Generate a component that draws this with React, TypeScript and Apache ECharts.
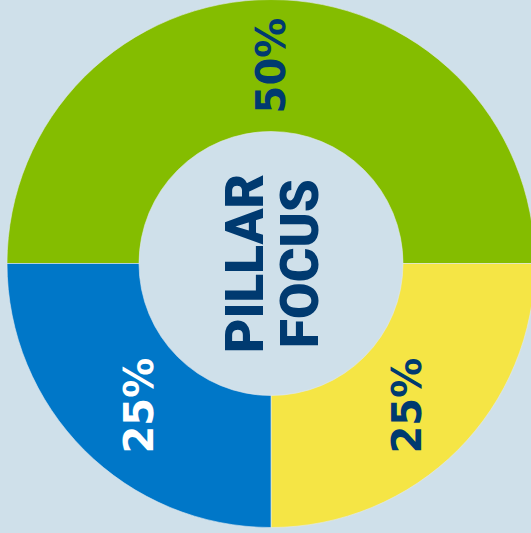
import React, { useEffect, useRef } from "react";
import * as echarts from "echarts";

const categories = ["Green pillar", "Yellow pillar", "Blue pillar"];
const values = [50, 25, 25];
const sliceColors = ["#84bd00", "#f5e545", "#0077c8"];
const labelColors = ["#003a70", "#003a70", "#ffffff"];
const centerLines = ["PILLAR", "FOCUS"];

export default function App() {
  const ref = useRef<HTMLDivElement>(null);
  useEffect(() => {
    if (!ref.current) return;
    const chart = echarts.init(ref.current, undefined, { renderer: "svg" });
    const offsets = [[-3, 0], [0, -6], [0, 10]];
    chart.setOption({
      animation: false,
      backgroundColor: "#cfe0ea",
      series: [
        {
          type: "pie",
          center: [271, 263.5],
          radius: [132, 264],
          startAngle: 180,
          clockwise: true,
          silent: true,
          itemStyle: { borderColor: "#e0eaf0", borderWidth: 0.6 },
          label: {
            show: true,
            position: "inside",
            rotate: 90,
            formatter: "{c}%",
            fontFamily: "DejaVu Sans",
            fontWeight: "bold",
            fontSize: 40,
          },
          labelLine: { show: false },
          data: categories.map((name, i) => ({
            name,
            value: values[i],
            itemStyle: { color: sliceColors[i] },
            label: { color: labelColors[i], offset: offsets[i] },
          })),
        },
      ],
      graphic: [
        {
          type: "text",
          x: 272,
          y: 263.5,
          rotation: Math.PI / 2,
          style: {
            text: centerLines.join("\n"),
            align: "center",
            verticalAlign: "middle",
            fontFamily: "Roboto",
            fontWeight: 900,
            fontSize: 53,
            lineHeight: 55,
            fill: "#003a70",
          },
        },
      ],
    });
    return () => chart.dispose();
  }, []);
  return (
    <div
      ref={ref}
      style={{ position: "fixed", left: 0, top: 0, width: 531, height: 533 }}
    />
  );
}
